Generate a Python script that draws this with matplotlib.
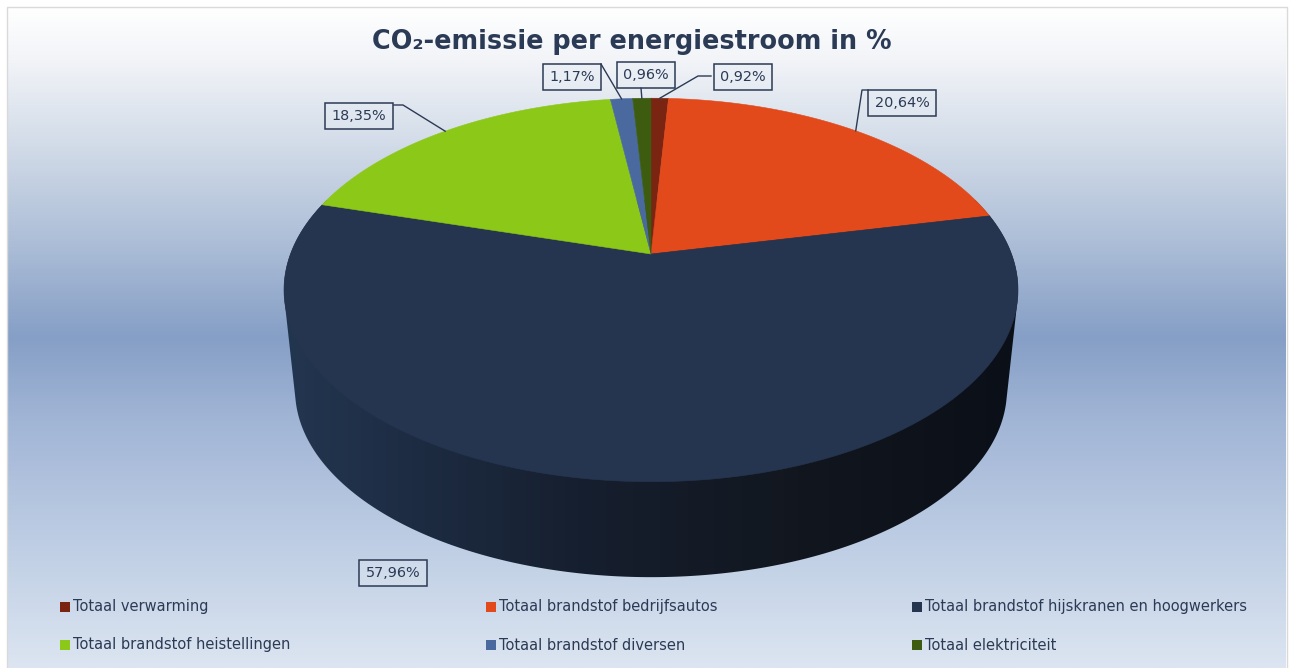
import numpy as np
import matplotlib.pyplot as plt
from matplotlib.colors import LinearSegmentedColormap
from matplotlib.patches import Polygon

labels = ['Totaal verwarming', 'Totaal brandstof bedrijfsautos',
          'Totaal brandstof hijskranen en hoogwerkers',
          'Totaal brandstof heistellingen', 'Totaal brandstof diversen',
          'Totaal elektriciteit']
values = [0.92, 20.64, 57.96, 18.35, 1.17, 0.96]
value_labels = ['0,92%', '20,64%', '57,96%', '18,35%', '1,17%', '0,96%']
colors = ['#7a2412', '#e2491b', '#26354f', '#8cc817', '#4a6a9f', '#3d5c10']
title = 'CO₂-emissie per energiestroom in %'

TEXT = '#2b3a55'
W, H = 1290, 668

# projection of the pie disc, top face and bottom face
CX = 651
TOP = dict(ay=254, a=360.5, b=185, k=0.1875)
BOT = dict(ay=355, a=349.6, b=180.5, k=0.1875)


def rim(pct, p):
    th = np.radians(np.asarray(pct) * 3.6)
    u, v = np.sin(th), np.cos(th)
    d = 1 + p['k'] * v
    return CX + p['a'] * u / d, p['ay'] - p['b'] * v / d


def hull(pts):
    pts = sorted(set(map(tuple, pts)))

    def half(seq):
        out = []
        for q in seq:
            while len(out) > 1 and ((out[-1][0] - out[-2][0]) * (q[1] - out[-2][1])
                                    - (out[-1][1] - out[-2][1]) * (q[0] - out[-2][0])) <= 0:
                out.pop()
            out.append(q)
        return out[:-1]
    return half(pts) + half(pts[::-1])


fig = plt.figure(figsize=(W / 100, H / 100), dpi=100)
ax = fig.add_axes([0, 0, 1, 1])
ax.set_xlim(0, W)
ax.set_ylim(H, 0)
ax.axis('off')
plt.rcParams['font.family'] = ['DejaVu Sans']

# background
bg = LinearSegmentedColormap.from_list('bg', [
    (0.0, '#ffffff'), (0.08, '#f2f4f8'), (0.2, '#d4dde9'), (0.35, '#aebfd8'),
    (0.5, '#869fc6'), (0.62, '#a0b4d5'), (0.8, '#bccce3'), (1.0, '#dce5f1')])
ax.imshow(np.linspace(0, 1, 256)[:, None], cmap=bg, extent=(7, 1286, H, 6),
          aspect='auto', zorder=0)
ax.plot([6.5, 6.5, 1286.5, 1286.5], [H, 6.5, 6.5, H], color='#dadada', lw=1, zorder=1)
ax.set_xlim(0, W)
ax.set_ylim(H, 0)

# side wall
all_pct = np.linspace(0, 100, 721)
side_pts = np.r_[np.c_[rim(all_pct, TOP)], np.c_[rim(all_pct, BOT)]]
side = Polygon(hull(side_pts), closed=True, transform=ax.transData, fc='none', ec='none')
ax.add_patch(side)
wall = LinearSegmentedColormap.from_list('wall', [
    (0.0, '#233650'), (0.12, '#1f2f47'), (0.4, '#161f2f'), (0.7, '#12171f'),
    (1.0, '#0b1018')])
im = ax.imshow(np.linspace(0, 1, 256)[None, :], cmap=wall, extent=(284, 1019, 600, 200),
               aspect='auto', zorder=2)
im.set_clip_path(side)
ax.set_xlim(0, W)
ax.set_ylim(H, 0)

# top face
cum = np.r_[0, np.cumsum(values)]
for i, c in enumerate(colors):
    pct = np.linspace(cum[i], cum[i + 1], 200)
    x, y = rim(pct, TOP)
    ax.fill(np.r_[CX, x], np.r_[TOP['ay'], y], fc=c, ec=c, lw=0.4, zorder=3)

# value labels with leader lines
mid = (cum[:-1] + cum[1:]) / 2
mx, my = rim(mid, TOP)
box_xy = [(743, 77), (902, 103), (393, 573), (359, 116), (572, 77), (646, 75)]
elbow = [[(711, 76), (698, 76)], [(868, 90), (862, 90)], None,
         [(394, 105), (403, 105)], [(601, 64)], [(641, 88)]]
for i, txt in enumerate(value_labels):
    ax.text(box_xy[i][0], box_xy[i][1], txt, ha='center', va='center', fontsize=10.4,
            color=TEXT, zorder=6,
            bbox=dict(boxstyle='square,pad=0.44', fc=(0.9, 0.93, 0.96, 0.35),
                      ec=TEXT, lw=1.1))
    if elbow[i]:
        xs = [p[0] for p in elbow[i]] + [mx[i]]
        ys = [p[1] for p in elbow[i]] + [my[i]]
        ax.plot(xs, ys, color=TEXT, lw=1, zorder=5)

ax.text(632, 42, title, ha='center', va='center', fontsize=18.4, fontweight='bold',
        color=TEXT, zorder=6)

# legend
col_x = [60, 486, 912]
row_y = [607, 645]
for i, lab in enumerate(labels):
    lx = col_x[i % 3]
    ly = row_y[i // 3]
    ax.scatter([lx + 5], [ly], marker='s', s=62, color=colors[i], lw=0, zorder=6)
    ax.text(lx + 13, ly, lab, ha='left', va='center', fontsize=10.5, color=TEXT, zorder=6)

fig.savefig('out.png', dpi=100, facecolor='white')
